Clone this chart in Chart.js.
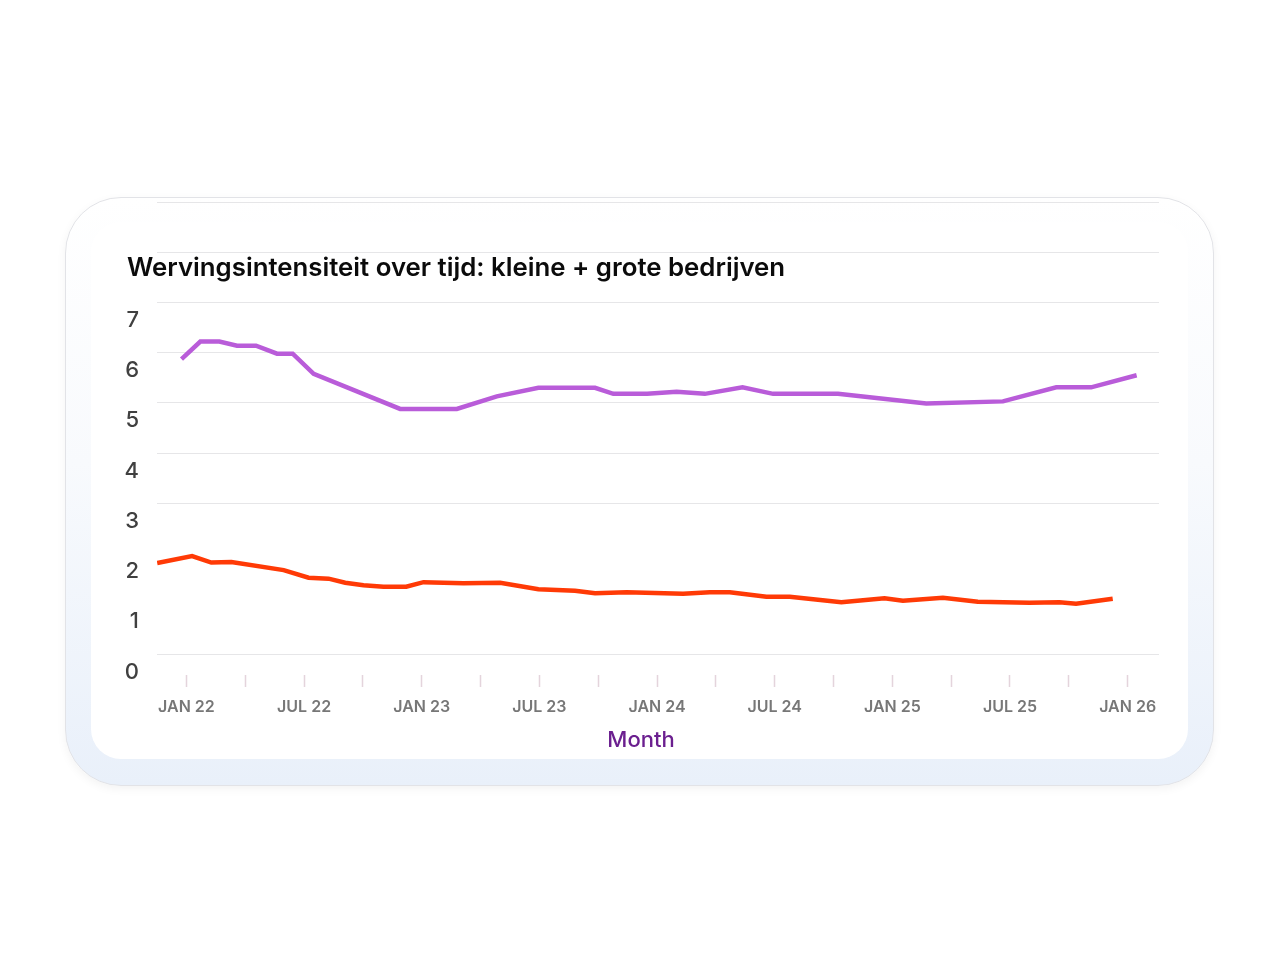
<!DOCTYPE html>
<html>
<head>
<meta charset="utf-8">
<script src="https://cdn.jsdelivr.net/npm/chart.js@4/dist/chart.umd.min.js"></script>
<style>
  html, body { margin: 0; padding: 0; background: #ffffff; width: 1280px; height: 960px; overflow: hidden; }
  #card { position: absolute; left: 65px; top: 197px; width: 1147px; height: 587px; border-radius: 56px;
          border: 1px solid #e2e3e7; background: linear-gradient(to bottom, #ffffff 0%, #f8fafd 45%, #e9f0fa 100%);
          box-shadow: 0 3px 10px rgba(0,0,0,0.05); }
  #inner { position: absolute; left: 91px; top: 222px; width: 1097px; height: 537px; border-radius: 30px; background: #ffffff; }
  #wrap { position: absolute; left: 0; top: 0; width: 1280px; height: 960px; }
</style>
</head>
<body>
<div id="card"></div>
<div id="inner"></div>
<div id="wrap"><canvas id="c" width="1280" height="960"></canvas></div>
<script>
// ---- data (x = months since Jan 2022, y = value) ----
const chartTitle = "Wervingsintensiteit over tijd: kleine + grote bedrijven";
const xAxisTitle = "Month";

const purpleMonths = [-0.25, 0.71, 1.68, 2.58, 3.55, 4.62, 5.42, 6.49, 10.9, 13.79, 15.83, 17.95, 20.84, 21.77, 23.5, 25.0, 26.44, 28.36, 29.92, 33.23, 37.73, 41.64, 44.36, 46.14, 48.46];
const purpleValues = [5.87, 6.22, 6.22, 6.14, 6.14, 5.98, 5.98, 5.58, 4.88, 4.88, 5.13, 5.30, 5.30, 5.18, 5.18, 5.22, 5.18, 5.31, 5.18, 5.18, 4.99, 5.03, 5.31, 5.31, 5.55];

const redMonths = [-1.49, 0.29, 1.27, 2.29, 4.96, 6.23, 7.25, 8.10, 9.03, 10.05, 11.21, 12.09, 14.13, 16.0, 17.95, 19.82, 20.84, 22.45, 25.33, 26.69, 27.71, 29.58, 30.77, 33.4, 35.6, 36.54, 38.58, 40.36, 42.99, 44.52, 45.37, 47.24];
const redValues = [1.81, 1.95, 1.82, 1.83, 1.67, 1.52, 1.50, 1.42, 1.37, 1.34, 1.34, 1.43, 1.41, 1.42, 1.29, 1.26, 1.21, 1.23, 1.20, 1.23, 1.23, 1.14, 1.14, 1.03, 1.11, 1.06, 1.12, 1.04, 1.02, 1.03, 1.00, 1.10];

const xTickMonths = [0, 3, 6, 9, 12, 15, 18, 21, 24, 27, 30, 33, 36, 39, 42, 45, 48];
const xTickLabels = ["JAN 22", "", "JUL 22", "", "JAN 23", "", "JUL 23", "", "JAN 24", "", "JUL 24", "", "JAN 25", "", "JUL 25", "", "JAN 26"];
const yTickLabels = ["0", "1", "2", "3", "4", "5", "6", "7", "", ""];
const yHiddenGrid = [1, 2];

const toPoints = (xs, ys) => xs.map((x, i) => ({ x: x, y: ys[i] }));

const textPlugin = {
  id: 'customText',
  afterDraw(chart) {
    const ctx = chart.ctx;
    ctx.save();
    ctx.font = '600 25.8px Inter, "Noto Sans", sans-serif';
    ctx.fillStyle = '#0b0b0b';
    ctx.textBaseline = 'alphabetic';
    ctx.textAlign = 'left';
    ctx.fillText(chartTitle, 127, 276);
    ctx.font = '500 22px Inter, "Noto Sans", sans-serif';
    ctx.fillStyle = '#6b1f8f';
    ctx.textAlign = 'center';
    ctx.textBaseline = 'middle';
    ctx.fillText(xAxisTitle, 641, 740);
    ctx.restore();
  }
};

new Chart(document.getElementById('c'), {
  type: 'line',
  data: {
    datasets: [
      { label: 'grote bedrijven', data: toPoints(purpleMonths, purpleValues), borderColor: '#b95cd9', borderWidth: 4.5, pointRadius: 0, tension: 0, fill: false },
      { label: 'kleine bedrijven', data: toPoints(redMonths, redValues), borderColor: '#ff3a06', borderWidth: 4.5, pointRadius: 0, tension: 0, fill: false }
    ]
  },
  options: {
    responsive: false,
    animation: false,
    events: [],
    layout: { padding: { left: 0, right: 121, top: 202, bottom: 245 } },
    plugins: { legend: { display: false }, title: { display: false }, tooltip: { enabled: false } },
    scales: {
      x: {
        type: 'linear',
        min: -1.5,
        max: 49.6,
        afterBuildTicks(scale) { scale.ticks = xTickMonths.map(v => ({ value: v })); },
        afterFit(scale) { scale.height = 61; },
        border: { display: false },
        grid: { drawOnChartArea: false, drawTicks: true, tickLength: 33, tickColor: '#e4d4dc', tickWidth: 1.5, tickBorderDash: [0, 21, 12, 40] },
        ticks: {
          padding: 11,
          autoSkip: false,
          maxRotation: 0,
          color: '#777777',
          font: { family: 'Inter, "Noto Sans", sans-serif', size: 16, weight: '600' },
          callback: (v) => { const i = xTickMonths.indexOf(v); return i >= 0 ? xTickLabels[i] : ''; }
        }
      },
      y: {
        min: 0,
        max: 9,
        afterFit(scale) { scale.width = 157; },
        border: { display: false },
        grid: { drawTicks: false, color: (c) => yHiddenGrid.includes(c.tick && c.tick.value) ? 'rgba(0,0,0,0)' : '#e6e6e8', lineWidth: 1 },
        ticks: {
          stepSize: 1,
          padding: 18,
          labelOffset: 18,
          color: '#404040',
          font: { family: 'Inter, "Noto Sans", sans-serif', size: 22, weight: '500' },
          callback: (v) => yTickLabels[v] !== undefined ? yTickLabels[v] : ''
        }
      }
    }
  },
  plugins: [textPlugin]
});
</script>
</body>
</html>
